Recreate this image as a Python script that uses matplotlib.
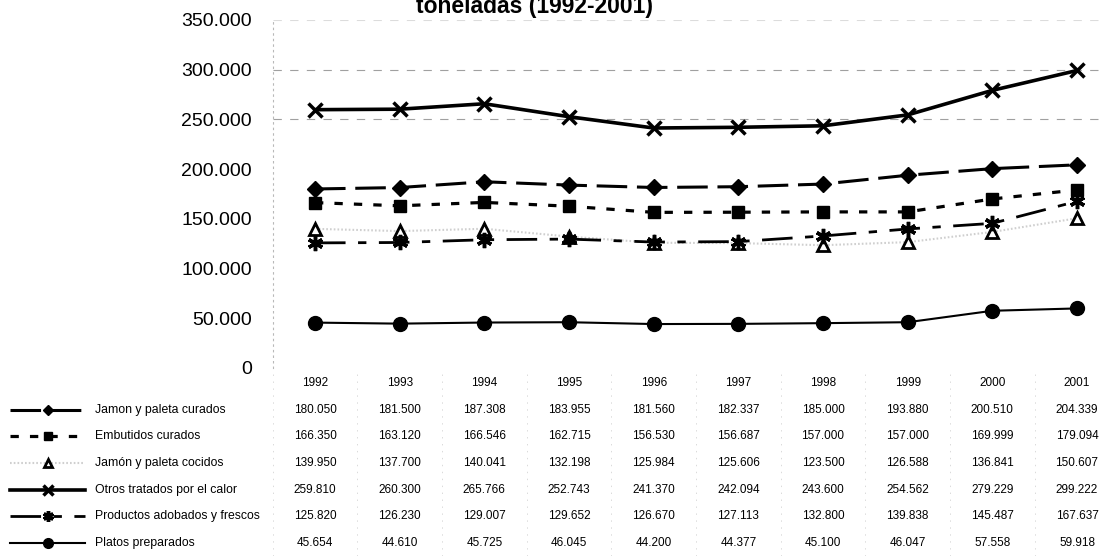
import matplotlib
matplotlib.use("Agg")
import matplotlib.pyplot as plt
from matplotlib.transforms import blended_transform_factory
from matplotlib.lines import Line2D

plt.rcParams['font.family'] = ['Liberation Sans', 'DejaVu Sans']
plt.rcParams['lines.scale_dashes'] = False

# production in tonnes, 1992-2001
years = ['1992', '1993', '1994', '1995', '1996', '1997', '1998', '1999', '2000', '2001']
jamon_curado = [180050, 181500, 187308, 183955, 181560, 182337, 185000, 193880, 200510, 204339]
embutidos = [166350, 163120, 166546, 162715, 156530, 156687, 157000, 157000, 169999, 179094]
jamon_cocido = [139950, 137700, 140041, 132198, 125984, 125606, 123500, 126588, 136841, 150607]
otros_calor = [259810, 260300, 265766, 252743, 241370, 242094, 243600, 254562, 279229, 299222]
adobados = [125820, 126230, 129007, 129652, 126670, 127113, 132800, 139838, 145487, 167637]
platos = [45654, 44610, 45725, 46045, 44200, 44377, 45100, 46047, 57558, 59918]

y_ticks = [0, 50000, 100000, 150000, 200000, 250000, 300000, 350000]

series = [
    ('Jamon y paleta curados', jamon_curado,
     dict(color='black', lw=2.2, dashes=(22, 7), marker='D', ms=8, mfc='black', mec='black')),
    ('Embutidos curados', embutidos,
     dict(color='black', lw=2.3, dashes=(6, 8), marker='s', ms=9, mfc='black', mec='black')),
    ('Jamón y paleta cocidos', jamon_cocido,
     dict(color='#cfcfcf', lw=1.5, linestyle=(0, (1.2, 1.5)), marker='^', ms=9,
          mfc='white', mec='black', mew=2)),
    ('Otros tratados por el calor', otros_calor,
     dict(color='black', lw=2.6, linestyle='-', marker='x', ms=10, mec='black', mew=2.5)),
    ('Productos adobados y frescos', adobados,
     dict(color='black', lw=2.0, dashes=(22, 9, 6, 9), marker=(6, 2, 0), ms=11,
          mec='black', mew=2.5)),
    ('Platos preparados', platos,
     dict(color='black', lw=1.5, linestyle='-', marker='o', ms=10, mfc='black', mec='black')),
]

W, H = 1102, 560
fig = plt.figure(figsize=(W / 100, H / 100), dpi=100)

# chart area
x0_px, step_px = 315, 84.67
left_px = x0_px - 0.5 * step_px
ax = fig.add_axes([left_px / W, 1 - 368 / H, (W - left_px) / W, 348 / H])
xs = list(range(len(years)))
for name, vals, style in series:
    ax.plot(xs, vals, zorder=3, **style)

ax.set_xlim(-0.5, (W - x0_px) / step_px)
ax.set_ylim(0, 350000)
ax.set_yticks(y_ticks)
ax.set_yticklabels([f"{v:,}".replace(',', '.') for v in y_ticks], fontsize=14)
ax.tick_params(axis='y', length=0, pad=15)
ax.set_xticks([])
for side in ['top', 'right', 'bottom']:
    ax.spines[side].set_visible(False)
ax.spines['left'].set_color('#b8b8b8')
ax.spines['left'].set_linestyle((0, (1, 3)))
ax.spines['left'].set_linewidth(0.8)

ax.yaxis.grid(True, color='#a0a0a0', linestyle=(0, (6, 6)), linewidth=0.8)
for tick, line in zip(y_ticks, ax.get_ygridlines()):
    if tick < 250000:
        line.set_visible(False)
    elif tick == 350000:
        line.set_color('#dcdcdc')
ax.set_axisbelow(True)

fig.text(535 / W, 1 - 13 / H, 'toneladas (1992-2001)', ha='center', va='baseline',
         fontsize=16.5, fontweight='bold')

# data table under the chart
tab = fig.add_axes([0, 1 - 556 / H, 1, 186 / H])
tab.set_xlim(-x0_px / step_px, (W - x0_px) / step_px)
tab.set_ylim(len(series) + 0.5, -0.5)
tab.axis('off')

for i, yr in enumerate(years):
    tab.text(i, 0, yr, ha='center', va='center', fontsize=8.5)

for c in range(len(years) + 1):
    tab.axvline(c - 0.5, color='#dadada', linestyle=(0, (1, 4)), lw=0.7)

mixed = blended_transform_factory(tab.transAxes, tab.transData)
for r, (name, vals, style) in enumerate(series, start=1):
    sample = Line2D([10 / W, 85 / W], [r, r], transform=mixed,
                    **{k: v for k, v in style.items() if k not in ('marker', 'ms', 'mew', 'mfc', 'mec')})
    tab.add_line(sample)
    mk = {k: v for k, v in style.items() if k in ('marker', 'mfc', 'mec', 'mew')}
    tab.add_line(Line2D([48 / W], [r], transform=mixed, linestyle='none',
                        ms=style.get('ms', 8) * 0.7, **mk))
    tab.text(95 / W, r, name, transform=mixed, ha='left', va='center', fontsize=8.8)
    for i, v in enumerate(vals):
        tab.text(i, r, f"{v:,}".replace(',', '.'), ha='center', va='center', fontsize=8.5)

fig.savefig('out.png', dpi=100)
